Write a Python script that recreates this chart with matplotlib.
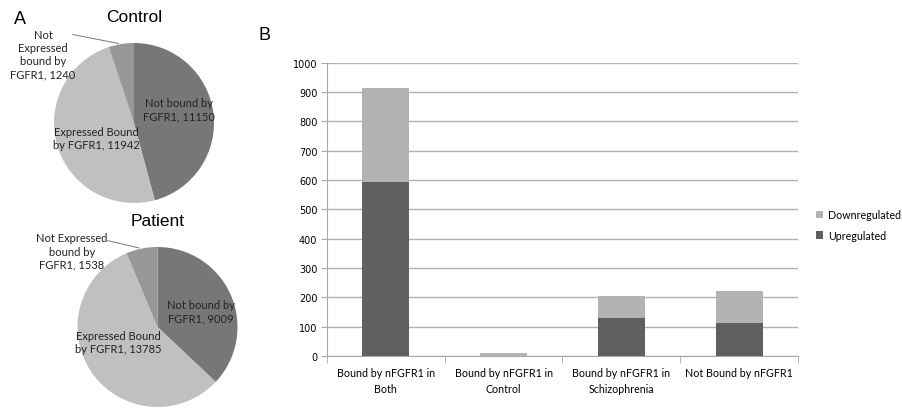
import matplotlib
matplotlib.use("Agg")
import matplotlib.pyplot as plt
import numpy as np

W, H = 903, 410

# pie data (order: clockwise from the top)
pie_labels = ["Not bound by\nFGFR1, {}", "Expressed Bound\nby FGFR1, {}", "Not\nExpressed\nbound by\nFGFR1, {}"]
control_counts = [11150, 11942, 1240]
patient_counts = [9009, 13785, 1538]
pie_colors = ["#777777", "#c0c0c0", "#979797"]

# bar data
categories = ["Bound by nFGFR1 in\nBoth", "Bound by nFGFR1 in\nControl",
              "Bound by nFGFR1 in\nSchizophrenia", "Not Bound by nFGFR1"]
upregulated = [592, 0, 129, 114]
downregulated = [322, 10, 74, 106]


def fx(px):
    return px / W


def fy(py):
    return 1 - py / H


fig = plt.figure(figsize=(W / 100, H / 100), dpi=100)


def draw_pie(cx, cy, r, counts, title, label_pos, label_texts, leader_from):
    ax = fig.add_axes([fx(cx - r), fy(cy + r), 2 * r / W, 2 * r / H])
    wedges, _ = ax.pie(counts, colors=pie_colors, startangle=90, counterclock=False,
                       radius=1, wedgeprops=dict(linewidth=0))
    ax.set_xlim(-1, 1)
    ax.set_ylim(-1, 1)
    ax.set_aspect("equal")
    ax.axis("off")
    for (px, py), txt in zip(label_pos, label_texts):
        fig.text(fx(px), fy(py), txt, ha="center", va="center", fontsize=8,
                 family="Lato", color="#222222", linespacing=1.25)
    # leader line to the small slice
    w = wedges[2]
    ang = np.deg2rad((w.theta1 + w.theta2) / 2)
    ax.annotate("", xy=(np.cos(ang), np.sin(ang)), xycoords="data",
                xytext=(fx(leader_from[0]), fy(leader_from[1])), textcoords="figure fraction",
                arrowprops=dict(arrowstyle="-", color="#777777", lw=0.7))
    fig.text(fx(cx), fy(cy - r - 26), title, ha="center", va="center",
             fontsize=12.5, family="Liberation Sans")


draw_pie(134, 124, 80, control_counts, "Control",
         [(179, 110), (96, 139), (43, 55)],
         [pie_labels[0].format(control_counts[0]), pie_labels[1].format(control_counts[1]),
          pie_labels[2].format(control_counts[2])],
         (70, 35))

draw_pie(157.5, 328, 80, patient_counts, "Patient",
         [(201, 312), (118, 343), (72, 252)],
         [pie_labels[0].format(patient_counts[0]), pie_labels[1].format(patient_counts[1]),
          "Not Expressed\nbound by\nFGFR1, {}".format(patient_counts[2])],
         (105, 241))

fig.text(fx(20), fy(19), "A", fontsize=13, family="Liberation Sans", ha="center", va="center")
fig.text(fx(265), fy(35), "B", fontsize=13, family="Liberation Sans", ha="center", va="center")

# stacked bar chart
ax = fig.add_axes([fx(327), fy(357), (798 - 327) / W, (357 - 63.5) / H])
x = np.arange(len(categories))
ax.bar(x, upregulated, width=0.4, color="#606060", label="Upregulated", zorder=3)
ax.bar(x, downregulated, width=0.4, bottom=upregulated, color="#b3b3b3",
       label="Downregulated", zorder=3)
ax.set_xlim(-0.5, len(categories) - 0.5)
ax.set_ylim(0, 1000)
ax.set_yticks(np.arange(0, 1001, 100))
ax.yaxis.grid(True, color="#b0b0b0", lw=1)
ax.set_axisbelow(True)
for s in ["top", "right"]:
    ax.spines[s].set_visible(False)
ax.spines["left"].set_color("#a8a8a8")
ax.spines["bottom"].set_color("#a8a8a8")
ax.tick_params(axis="y", length=4, color="#a8a8a8", labelsize=7, pad=3)
for lab in ax.get_yticklabels():
    lab.set_family("DejaVu Sans")
ax.set_xticks(x)
ax.set_xticklabels(categories, fontsize=7.7, family="Lato", linespacing=1.5)
ax.tick_params(axis="x", length=0, pad=8)
ax.set_xticks(np.arange(-0.5, len(categories), 1), minor=True)
ax.tick_params(axis="x", which="minor", length=5, color="#a8a8a8")

handles, labels = ax.get_legend_handles_labels()
leg = fig.legend(handles[::-1], labels[::-1], loc="center left",
                 bbox_to_anchor=(fx(806), fy(226)), frameon=False,
                 prop=dict(family="Lato", size=7.7), handlelength=0.7, handleheight=0.7,
                 handletextpad=0.5, labelspacing=0.9)

fig.savefig("out.png", dpi=100)
